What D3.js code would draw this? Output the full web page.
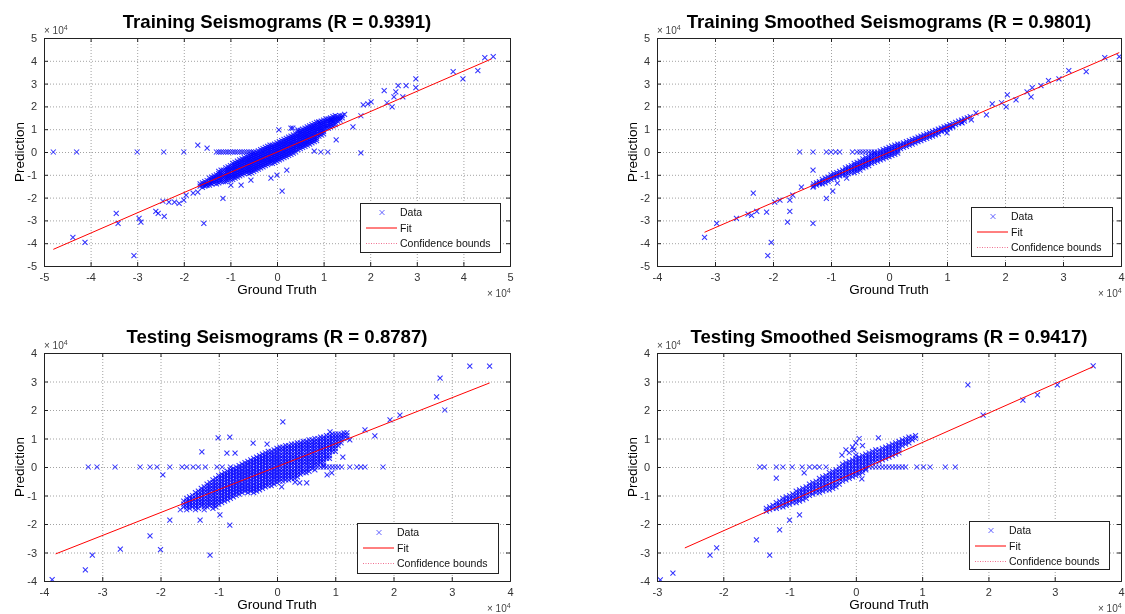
<!DOCTYPE html>
<html><head><meta charset="utf-8">
<script src="https://cdn.jsdelivr.net/npm/d3@7"></script>
<style>
body{margin:0;background:#fff}
text{font-family:Arial,"Liberation Sans",Helvetica,sans-serif}
</style>
</head><body>
<svg id="chart" width="1125" height="614"></svg>
<script>
// ---------------- DATA (units of 10^4) ----------------
const titles = [
  "Training Seismograms (R = 0.9391)",
  "Training Smoothed Seismograms (R = 0.9801)",
  "Testing Seismograms (R = 0.8787)",
  "Testing Smoothed Seismograms (R = 0.9417)"
];
const xLabel = "Ground Truth";
const yLabel = "Prediction";
const legendLabels = ["Data", "Fit", "Confidence bounds"];

const tlXTicks = [-5,-4,-3,-2,-1,0,1,2,3,4,5];
const tlYTicks = [-5,-4,-3,-2,-1,0,1,2,3,4,5];
const trXTicks = [-4,-3,-2,-1,0,1,2,3,4];
const trYTicks = [-5,-4,-3,-2,-1,0,1,2,3,4,5];
const blXTicks = [-4,-3,-2,-1,0,1,2,3,4];
const blYTicks = [-4,-3,-2,-1,0,1,2,3,4];
const brXTicks = [-3,-2,-1,0,1,2,3,4];
const brYTicks = [-4,-3,-2,-1,0,1,2,3,4];

const tlFit = [[-4.8,-4.27],[4.6,4.08]];
const trFit = [[-3.18,-3.52],[3.97,4.36]];
const blFit = [[-3.8,-3.05],[3.65,2.95]];
const brFit = [[-2.58,-2.84],[3.58,3.52]];

// scattered points [x, y]
const tlScatter = [
[-4.8,0],[-4.3,0],[-3.0,0],[-2.43,0],[-2.0,0],[-1.5,0.17],[-1.7,0.3],
[-1.3,0],[-1.25,0],[-1.2,0],[-1.15,0],[-1.1,0],[-1.05,0],[-1.0,0],[-0.95,0],[-0.9,0],[-0.85,0],[-0.8,0],[-0.75,0],[-0.7,0],[-0.65,0],[-0.6,0],[-0.55,0],[-0.5,0],
[0.04,0.97],[0.3,1.05],[0.34,1.05],[0.45,0.97],
[4.46,4.14],[4.64,4.18],[3.78,3.52],[3.99,3.21],[4.31,3.57],[2.98,3.21],[2.98,2.82],[2.6,2.91],[2.77,2.91],[2.55,2.64],[2.51,2.42],[2.3,2.69],[2.36,2.16],[2.47,1.98],[2.7,2.42],[2.02,2.2],[1.95,2.11],[1.85,2.07],[1.8,1.59],[1.63,1.1],[1.8,-0.04],[1.27,0.53],[1.16,1.41],[0.9,1.32],[1.09,0],[0.94,0],[0.8,0.04],
[-3.45,-2.69],[-3.41,-3.13],[-4.38,-3.74],[-4.12,-3.96],[-2.96,-2.91],[-2.92,-3.08],[-3.07,-4.54],[-2.6,-2.6],[-2.55,-2.69],[-2.42,-2.82],[-2.45,-2.16],[-2.32,-2.2],[-2.2,-2.2],[-2.1,-2.25],[-2.0,-2.11],[-1.95,-1.89],[-1.8,-1.8],[-1.7,-1.76],[-1.57,-3.13],[-1.52,-1.45],[-1.42,-1.37],[-1.16,-2.03],[-0.99,-1.45],[-0.77,-1.45],[-0.56,-1.23],[-0.13,-1.15],[0,-1.01],[0.11,-1.72],[0.21,-0.79]
];
// dense core: [x, [y, y, ...]]
const tlCore = [
[-1.65,[-1.4,-1.5]],[-1.6,[-1.35,-1.45,-1.55]],[-1.55,[-1.3,-1.4,-1.5]],[-1.5,[-1.25,-1.35,-1.45]],
[-1.45,[-1.15,-1.25,-1.35,-1.45]],[-1.4,[-1.1,-1.2,-1.3,-1.4]],[-1.35,[-1.05,-1.15,-1.25,-1.35]],[-1.3,[-1.0,-1.1,-1.2,-1.3,-1.4]],
[-1.25,[-0.85,-0.95,-1.05,-1.15,-1.25,-1.35]],[-1.2,[-0.8,-0.9,-1.0,-1.1,-1.2,-1.3]],[-1.15,[-0.8,-0.9,-1.0,-1.1,-1.2,-1.3]],
[-1.1,[-0.7,-0.8,-0.9,-1.0,-1.1,-1.2,-1.3]],[-1.05,[-0.65,-0.75,-0.85,-0.95,-1.05,-1.15,-1.25]],[-1.0,[-0.6,-0.7,-0.8,-0.9,-1.0,-1.1,-1.2]],
[-0.95,[-0.5,-0.6,-0.7,-0.8,-0.9,-1.0,-1.1,-1.2]],[-0.9,[-0.45,-0.55,-0.65,-0.75,-0.85,-0.95,-1.05,-1.15]],
[-0.85,[-0.4,-0.5,-0.6,-0.7,-0.8,-0.9,-1.0,-1.1]],[-0.8,[-0.35,-0.45,-0.55,-0.65,-0.75,-0.85,-0.95,-1.05]],
[-0.75,[-0.3,-0.4,-0.5,-0.6,-0.7,-0.8,-0.9,-1.0]],[-0.7,[-0.25,-0.35,-0.45,-0.55,-0.65,-0.75,-0.85,-0.95]],
[-0.65,[-0.2,-0.3,-0.4,-0.5,-0.6,-0.7,-0.8,-0.9]],[-0.6,[-0.15,-0.25,-0.35,-0.45,-0.55,-0.65,-0.75,-0.85,-0.95]],
[-0.55,[-0.1,-0.2,-0.3,-0.4,-0.5,-0.6,-0.7,-0.8,-0.9]],[-0.5,[-0.05,-0.15,-0.25,-0.35,-0.45,-0.55,-0.65,-0.75,-0.85]],
[-0.45,[0,-0.1,-0.2,-0.3,-0.4,-0.5,-0.6,-0.7,-0.8]],[-0.4,[0.05,-0.05,-0.15,-0.25,-0.35,-0.45,-0.55,-0.65,-0.75]],
[-0.35,[0.1,0,-0.1,-0.2,-0.3,-0.4,-0.5,-0.6,-0.7]],[-0.3,[0.15,0.05,-0.05,-0.15,-0.25,-0.35,-0.45,-0.55,-0.65]],
[-0.25,[0.2,0.1,0,-0.1,-0.2,-0.3,-0.4,-0.5,-0.6]],[-0.2,[0.25,0.15,0.05,-0.05,-0.15,-0.25,-0.35,-0.45,-0.55]],
[-0.15,[0.3,0.2,0.1,0,-0.1,-0.2,-0.3,-0.4,-0.5]],[-0.1,[0.3,0.2,0.1,0,-0.1,-0.2,-0.3,-0.4,-0.5]],
[-0.05,[0.35,0.25,0.15,0.05,-0.05,-0.15,-0.25,-0.35,-0.45]],[0,[0.4,0.3,0.2,0.1,0,-0.1,-0.2,-0.3,-0.4]],
[0.05,[0.45,0.35,0.25,0.15,0.05,-0.05,-0.15,-0.25,-0.35]],[0.1,[0.5,0.4,0.3,0.2,0.1,0,-0.1,-0.2,-0.3]],
[0.15,[0.55,0.45,0.35,0.25,0.15,0.05,-0.05,-0.15,-0.25]],[0.2,[0.6,0.5,0.4,0.3,0.2,0.1,0,-0.1,-0.2]],
[0.25,[0.65,0.55,0.45,0.35,0.25,0.15,0.05,-0.05,-0.15]],[0.3,[0.7,0.6,0.5,0.4,0.3,0.2,0.1,0,-0.1]],
[0.35,[0.75,0.65,0.55,0.45,0.35,0.25,0.15,0.05,-0.05]],[0.4,[0.8,0.7,0.6,0.5,0.4,0.3,0.2,0.1,0]],
[0.45,[0.9,0.8,0.7,0.6,0.5,0.4,0.3,0.2,0.1]],[0.5,[0.95,0.85,0.75,0.65,0.55,0.45,0.35,0.25,0.15]],
[0.55,[1.0,0.9,0.8,0.7,0.6,0.5,0.4,0.3,0.2]],[0.6,[1.05,0.95,0.85,0.75,0.65,0.55,0.45,0.35,0.25]],
[0.65,[1.1,1.0,0.9,0.8,0.7,0.6,0.5,0.4,0.3]],[0.7,[1.15,1.05,0.95,0.85,0.75,0.65,0.55,0.45,0.35]],
[0.75,[1.2,1.1,1.0,0.9,0.8,0.7,0.6,0.5,0.4]],[0.8,[1.25,1.15,1.05,0.95,0.85,0.75,0.65,0.55,0.45]],
[0.85,[1.3,1.2,1.1,1.0,0.9,0.8,0.7,0.6,0.5]],[0.9,[1.3,1.2,1.1,1.0,0.9,0.8,0.7]],
[0.95,[1.35,1.25,1.15,1.05,0.95,0.85,0.75]],[1.0,[1.4,1.3,1.2,1.1,1.0,0.9,0.8]],
[1.05,[1.45,1.35,1.25,1.15,1.05]],[1.1,[1.45,1.35,1.25,1.15,1.05]],[1.15,[1.5,1.4,1.3,1.2,1.1]],
[1.2,[1.55,1.45,1.35,1.25,1.15]],[1.25,[1.6,1.5,1.4,1.3,1.2]],[1.3,[1.55,1.45,1.35]],[1.35,[1.6,1.5,1.4]],
[1.4,[1.6,1.5]],[1.45,[1.65]]
];

const trScatter = [
[3.97,4.18],[3.72,4.14],[3.4,3.52],[3.1,3.57],[2.93,3.21],[2.75,3.13],[2.62,2.91],[2.47,2.82],[2.45,2.42],[2.38,2.64],[2.19,2.29],[2.04,2.51],[2.02,1.98],[1.94,2.16],[1.78,2.11],[1.68,1.63],[1.5,1.72],[1.0,0.84],[1.26,1.28],[1.42,1.41],
[-3.18,-3.74],[-2.97,-3.13],[-2.63,-2.91],[-2.43,-2.73],[-2.37,-2.78],[-2.34,-1.8],[-2.28,-2.6],[-2.11,-2.64],[-2.03,-3.96],[-2.09,-4.54],[-1.97,-2.2],[-1.88,-2.11],[-1.71,-2.6],[-1.75,-3.08],[-1.71,-2.11],[-1.66,-1.89],[-1.51,-1.54],[-1.31,-3.13],[-1.31,-0.79],[-1.31,-1.54],[-1.08,-2.03],[-0.97,-1.72],[-1.2,-1.37],[-0.89,-1.37],[-0.73,-1.15],
[-1.54,0],[-1.31,0],[-1.08,0],[-1.0,0],[-0.92,0],[-0.85,0],[-0.63,0],[-0.55,0],[-0.5,0],[-0.45,0],[-0.4,0],[-0.35,0],[-0.3,0],[-0.25,0]
];
const trCore = [
[-1.3,[-1.4,-1.5]],[-1.25,[-1.35,-1.45]],[-1.2,[-1.3,-1.4]],[-1.15,[-1.2,-1.3,-1.4]],[-1.1,[-1.15,-1.25,-1.35]],
[-1.05,[-1.1,-1.2,-1.3]],[-1.0,[-1.0,-1.1,-1.2]],[-0.95,[-0.95,-1.05,-1.15]],[-0.9,[-0.9,-1.0,-1.1]],[-0.85,[-0.85,-0.95,-1.05]],
[-0.8,[-0.8,-0.9,-1.0]],[-0.75,[-0.7,-0.8,-0.9,-1.0]],[-0.7,[-0.65,-0.75,-0.85,-0.95]],[-0.65,[-0.6,-0.7,-0.8,-0.9]],
[-0.6,[-0.5,-0.6,-0.7,-0.8,-0.9]],[-0.55,[-0.45,-0.55,-0.65,-0.75,-0.85]],[-0.5,[-0.4,-0.5,-0.6,-0.7,-0.8]],
[-0.45,[-0.3,-0.4,-0.5,-0.6,-0.7]],[-0.4,[-0.25,-0.35,-0.45,-0.55,-0.65]],[-0.35,[-0.2,-0.3,-0.4,-0.5,-0.6]],
[-0.3,[-0.1,-0.2,-0.3,-0.4,-0.5]],[-0.25,[-0.05,-0.15,-0.25,-0.35,-0.45]],[-0.2,[0,-0.1,-0.2,-0.3,-0.4]],
[-0.15,[0.05,-0.05,-0.15,-0.25,-0.35]],[-0.1,[0.1,0,-0.1,-0.2,-0.3]],[-0.05,[0.15,0.05,-0.05,-0.15,-0.25]],
[0,[0.2,0.1,0,-0.1,-0.2]],[0.05,[0.25,0.15,0.05,-0.05,-0.15]],[0.1,[0.3,0.2,0.1,0,-0.1]],[0.15,[0.35,0.25,0.15,0.05,-0.05]],
[0.2,[0.35,0.25,0.15]],[0.25,[0.4,0.3,0.2]],[0.3,[0.45,0.35,0.25]],[0.35,[0.5,0.4,0.3]],[0.4,[0.55,0.45,0.35]],
[0.45,[0.6,0.5,0.4]],[0.5,[0.65,0.55,0.45]],[0.55,[0.7,0.6,0.5]],[0.6,[0.75,0.65,0.55]],[0.65,[0.8,0.7,0.6]],
[0.7,[0.85,0.75,0.65]],[0.75,[0.9,0.8,0.7]],[0.8,[0.95,0.85,0.75]],[0.85,[1.0,0.9,0.8]],[0.9,[1.05,0.95,0.9]],
[0.95,[1.1,1.0,0.95]],[1.0,[1.15,1.05,1.0]],[1.05,[1.2,1.1,1.05]],[1.1,[1.25,1.15,1.1]],[1.15,[1.3,1.2]],
[1.2,[1.35,1.25]],[1.25,[1.4,1.3]],[1.3,[1.45,1.35]],[1.35,[1.5]],[1.4,[1.55]]
];

const blScatter = [
[-3.24,0],[-3.09,0],[-2.78,0],[-2.35,0],[-2.18,0],[-2.06,0],[-1.84,0],[-1.63,0],[-1.55,0],[-1.44,0],[-1.35,0],[-1.23,0],[-1.03,0],[-0.94,0],[-0.8,0],
[-1.29,0.53],[-1.96,-0.28],[-1.01,1.02],[-0.81,1.05],[-0.86,0.49],[-0.72,0.49],[-0.41,0.84],[0.1,1.58],[-0.17,0.8],
[1.0,0],[1.05,0],[1.11,0],[1.25,0],[1.37,0],[1.44,0],[1.51,0],[1.82,0],[1.13,0.35],[0.86,-0.28],[0.94,-0.21],[0.51,-0.56],[0.39,-0.56],[0.31,-0.53],[0.08,-0.7],
[3.31,3.54],[3.65,3.54],[2.8,3.12],[2.74,2.46],[2.88,2.0],[2.11,1.82],[1.94,1.65],[1.51,1.3],[1.68,1.09],[1.25,0.95],[0.91,1.23],
[-3.86,-3.95],[-3.29,-3.61],[-3.17,-3.09],[-2.69,-2.88],[-2.18,-2.42],[-2.0,-2.9],[-1.66,-1.5],[-1.84,-1.86],[-1.15,-3.09],[-1.32,-1.86],[-0.98,-1.68],[-0.81,-2.04]
];
const blCore = [
[-1.6,[-1.2,-1.3,-1.4]],[-1.55,[-1.1,-1.2,-1.3,-1.4,-1.5]],[-1.5,[-1.05,-1.15,-1.25,-1.35,-1.45]],[-1.45,[-1.0,-1.1,-1.2,-1.3,-1.4]],
[-1.4,[-0.9,-1.0,-1.1,-1.2,-1.3,-1.4,-1.5]],[-1.35,[-0.85,-0.95,-1.05,-1.15,-1.25,-1.35,-1.45]],[-1.3,[-0.75,-0.85,-0.95,-1.05,-1.15,-1.25,-1.35]],
[-1.25,[-0.7,-0.8,-0.9,-1.0,-1.1,-1.2,-1.3,-1.4,-1.5]],[-1.2,[-0.6,-0.7,-0.8,-0.9,-1.0,-1.1,-1.2,-1.3,-1.4]],
[-1.15,[-0.55,-0.65,-0.75,-0.85,-0.95,-1.05,-1.15,-1.25,-1.35]],
[-1.1,[-0.45,-0.55,-0.65,-0.75,-0.85,-0.95,-1.05,-1.15,-1.25,-1.35,-1.45]],[-1.05,[-0.4,-0.5,-0.6,-0.7,-0.8,-0.9,-1.0,-1.1,-1.2,-1.3,-1.4]],
[-1.0,[-0.3,-0.4,-0.5,-0.6,-0.7,-0.8,-0.9,-1.0,-1.1,-1.2,-1.3]],[-0.95,[-0.25,-0.35,-0.45,-0.55,-0.65,-0.75,-0.85,-0.95,-1.05,-1.15,-1.25]],
[-0.9,[-0.2,-0.3,-0.4,-0.5,-0.6,-0.7,-0.8,-0.9,-1.0,-1.1,-1.2]],[-0.85,[-0.15,-0.25,-0.35,-0.45,-0.55,-0.65,-0.75,-0.85,-0.95,-1.05,-1.15]],
[-0.8,[-0.1,-0.2,-0.3,-0.4,-0.5,-0.6,-0.7,-0.8,-0.9,-1.0,-1.1]],[-0.75,[-0.05,-0.15,-0.25,-0.35,-0.45,-0.55,-0.65,-0.75,-0.85,-0.95,-1.05]],
[-0.7,[0,-0.1,-0.2,-0.3,-0.4,-0.5,-0.6,-0.7,-0.8,-0.9,-1.0]],[-0.65,[0.05,-0.05,-0.15,-0.25,-0.35,-0.45,-0.55,-0.65,-0.75,-0.85,-0.95]],
[-0.6,[0.1,0,-0.1,-0.2,-0.3,-0.4,-0.5,-0.6,-0.7,-0.8,-0.9]],[-0.55,[0.15,0.05,-0.05,-0.15,-0.25,-0.35,-0.45,-0.55,-0.65,-0.75,-0.85]],
[-0.5,[0.2,0.1,0,-0.1,-0.2,-0.3,-0.4,-0.5,-0.6,-0.7,-0.8,-0.9]],[-0.45,[0.25,0.15,0.05,-0.05,-0.15,-0.25,-0.35,-0.45,-0.55,-0.65,-0.75,-0.85]],
[-0.4,[0.3,0.2,0.1,0,-0.1,-0.2,-0.3,-0.4,-0.5,-0.6,-0.7,-0.8,-0.9]],[-0.35,[0.35,0.25,0.15,0.05,-0.05,-0.15,-0.25,-0.35,-0.45,-0.55,-0.65,-0.75,-0.85]],
[-0.3,[0.4,0.3,0.2,0.1,0,-0.1,-0.2,-0.3,-0.4,-0.5,-0.6,-0.7,-0.8]],[-0.25,[0.45,0.35,0.25,0.15,0.05,-0.05,-0.15,-0.25,-0.35,-0.45,-0.55,-0.65,-0.75]],
[-0.2,[0.5,0.4,0.3,0.2,0.1,0,-0.1,-0.2,-0.3,-0.4,-0.5,-0.6,-0.7]],[-0.15,[0.55,0.45,0.35,0.25,0.15,0.05,-0.05,-0.15,-0.25,-0.35,-0.45,-0.55,-0.65]],
[-0.1,[0.55,0.45,0.35,0.25,0.15,0.05,-0.05,-0.15,-0.25,-0.35,-0.45,-0.55,-0.65]],[-0.05,[0.6,0.5,0.4,0.3,0.2,0.1,0,-0.1,-0.2,-0.3,-0.4,-0.5,-0.6]],
[0,[0.65,0.55,0.45,0.35,0.25,0.15,0.05,-0.05,-0.15,-0.25,-0.35,-0.45,-0.55]],[0.05,[0.7,0.6,0.5,0.4,0.3,0.2,0.1,0,-0.1,-0.2,-0.3,-0.4,-0.5]],
[0.1,[0.7,0.6,0.5,0.4,0.3,0.2,0.1,0,-0.1,-0.2,-0.3,-0.4,-0.5]],[0.15,[0.75,0.65,0.55,0.45,0.35,0.25,0.15,0.05,-0.05,-0.15,-0.25,-0.35,-0.45]],
[0.2,[0.75,0.65,0.55,0.45,0.35,0.25,0.15,0.05,-0.05,-0.15,-0.25,-0.35,-0.45]],[0.25,[0.8,0.7,0.6,0.5,0.4,0.3,0.2,0.1,0,-0.1,-0.2,-0.3,-0.4]],
[0.3,[0.8,0.7,0.6,0.5,0.4,0.3,0.2,0.1,0,-0.1,-0.2,-0.3,-0.4]],[0.35,[0.85,0.75,0.65,0.55,0.45,0.35,0.25,0.15,0.05,-0.05,-0.15,-0.25,-0.35]],
[0.4,[0.85,0.75,0.65,0.55,0.45,0.35,0.25,0.15,0.05,-0.05,-0.15,-0.25]],[0.45,[0.9,0.8,0.7,0.6,0.5,0.4,0.3,0.2,0.1,0,-0.1,-0.2]],
[0.5,[0.9,0.8,0.7,0.6,0.5,0.4,0.3,0.2,0.1,0,-0.1,-0.2]],[0.55,[0.95,0.85,0.75,0.65,0.55,0.45,0.35,0.25,0.15,0.05,-0.05,-0.15]],
[0.6,[0.95,0.85,0.75,0.65,0.55,0.45,0.35,0.25,0.15,0.05,-0.05]],[0.65,[1.0,0.9,0.8,0.7,0.6,0.5,0.4,0.3,0.2,0.1,0,-0.1]],
[0.7,[1.0,0.9,0.8,0.7,0.6,0.5,0.4,0.3,0.2,0.1,0]],[0.75,[1.05,0.95,0.85,0.75,0.65,0.55,0.45,0.35,0.25,0.15,0]],
[0.8,[1.05,0.95,0.85,0.75,0.65,0.55,0.45,0.35,0.25,0.15,0.05,0]],[0.85,[1.1,1.0,0.9,0.8,0.7,0.6,0.5,0.4,0.3,0]],
[0.9,[1.1,1.0,0.9,0.8,0.7,0.6,0.5,0.4,0.3,0]],[0.95,[1.15,1.05,0.95,0.85,0.75,0.65,0.55,0]],
[1.0,[1.15,1.05,0.95,0.85,0.75,0.65,0.55]],[1.05,[1.15,1.05,0.95,0.85,0.75]],[1.1,[1.15,1.05,0.95,0.85]],
[1.15,[1.2,1.1,1.0]],[1.2,[1.2,1.1,1.0]]
];

const brScatter = [
[-1.45,0],[-1.38,0],[-1.2,0],[-1.1,0],[-0.96,0],[-0.81,0],[-0.7,0],[-0.62,0],[-0.55,0],[-0.45,0],
[-1.2,-0.39],[-0.78,-0.21],[-0.21,0.42],[0,0.42],[-0.03,0.6],[0.34,1.02],[-0.1,0.5],[-0.05,0.7],[0,0.85],[0.05,1.0],[-0.15,0.6],[0.1,0.75],
[0.65,0],[0.7,0],[0.75,0],[0.92,0],[1.02,0],[1.12,0],[1.35,0],[1.5,0],[0.09,-0.42],
[3.58,3.55],[3.04,2.88],[2.74,2.53],[2.52,2.35],[1.92,1.82],[1.69,2.88],
[-2.95,-3.96],[-2.76,-3.72],[-2.1,-2.84],[-2.2,-3.09],[-1.5,-2.56],[-1.3,-3.09],[-1.15,-2.21],[-1.0,-1.86],[-0.85,-1.68]
];
const brCore = [
[-1.35,[-1.45,-1.55]],[-1.3,[-1.4,-1.5]],[-1.25,[-1.35,-1.45]],[-1.2,[-1.25,-1.35,-1.45]],[-1.15,[-1.2,-1.3,-1.4]],
[-1.1,[-1.1,-1.2,-1.3,-1.4]],[-1.05,[-1.05,-1.15,-1.25,-1.35]],[-1.0,[-1.0,-1.1,-1.2,-1.3]],[-0.95,[-0.95,-1.05,-1.15,-1.25]],
[-0.9,[-0.85,-0.95,-1.05,-1.15,-1.25]],[-0.85,[-0.8,-0.9,-1.0,-1.1,-1.2]],[-0.8,[-0.75,-0.85,-0.95,-1.05,-1.15]],
[-0.75,[-0.7,-0.8,-0.9,-1.0,-1.1]],[-0.7,[-0.6,-0.7,-0.8,-0.9,-1.0]],[-0.65,[-0.55,-0.65,-0.75,-0.85,-0.95]],
[-0.6,[-0.5,-0.6,-0.7,-0.8,-0.9]],[-0.55,[-0.4,-0.5,-0.6,-0.7,-0.8,-0.9]],[-0.5,[-0.35,-0.45,-0.55,-0.65,-0.75,-0.85]],
[-0.45,[-0.3,-0.4,-0.5,-0.6,-0.7,-0.8]],[-0.4,[-0.2,-0.3,-0.4,-0.5,-0.6,-0.7,-0.8]],[-0.35,[-0.15,-0.25,-0.35,-0.45,-0.55,-0.65,-0.75]],
[-0.3,[-0.1,-0.2,-0.3,-0.4,-0.5,-0.6,-0.7]],[-0.25,[0,-0.1,-0.2,-0.3,-0.4,-0.5,-0.6]],[-0.2,[0.1,0,-0.1,-0.2,-0.3,-0.4,-0.5]],
[-0.15,[0.15,0.05,-0.05,-0.15,-0.25,-0.35,-0.45]],[-0.1,[0.2,0.1,0,-0.1,-0.2,-0.3,-0.4]],[-0.05,[0.25,0.15,0.05,-0.05,-0.15,-0.25,-0.35]],
[0,[0.3,0.2,0.1,0,-0.1,-0.2,-0.3]],[0.05,[0.35,0.25,0.15,0.05,-0.05,-0.15,-0.25]],[0.1,[0.4,0.3,0.2,0.1,0,-0.1,-0.2]],
[0.15,[0.45,0.35,0.25,0.15,0.05,-0.05,-0.1]],[0.2,[0.5,0.4,0.3,0.2,0.1,0]],[0.25,[0.55,0.45,0.35,0.25,0.15,0]],
[0.3,[0.6,0.5,0.4,0.3,0.2,0]],[0.35,[0.6,0.5,0.4,0.3,0.2,0]],[0.4,[0.65,0.55,0.45,0.35,0.25,0]],[0.45,[0.7,0.6,0.5,0.4,0.3,0]],
[0.5,[0.75,0.65,0.55,0.45,0.35,0]],[0.55,[0.8,0.7,0.6,0.5,0.4,0]],[0.6,[0.85,0.75,0.65,0.55,0.45,0]],[0.65,[0.9,0.8,0.7,0.6,0.5]],
[0.7,[0.95,0.85,0.75]],[0.75,[1.0,0.9,0.8]],[0.8,[1.05,0.95,0.85]],[0.85,[1.05,0.95]],[0.9,[1.1,1.0]]
];

// ---------------- LAYOUT ----------------
const panels = [
  {title:titles[0], scatter:tlScatter, core:tlCore, fit:tlFit, xt:tlXTicks, yt:tlYTicks, l:44, r:510, t:38, b:266, leg:{x:360,y:203,w:140,h:49}},
  {title:titles[1], scatter:trScatter, core:trCore, fit:trFit, xt:trXTicks, yt:trYTicks, l:657, r:1121, t:38, b:266, leg:{x:971,y:207,w:141,h:49}},
  {title:titles[2], scatter:blScatter, core:blCore, fit:blFit, xt:blXTicks, yt:blYTicks, l:44, r:510, t:353, b:581, leg:{x:357,y:523,w:141,h:50}},
  {title:titles[3], scatter:brScatter, core:brCore, fit:brFit, xt:brXTicks, yt:brYTicks, l:657, r:1121, t:353, b:581, leg:{x:969,y:521,w:140,h:48}}
];

const svg = d3.select("#chart");
svg.append("rect").attr("width",1125).attr("height",614).attr("fill","#fff");
const defs = svg.append("defs");
defs.append("filter").attr("id","soft").attr("x","-5%").attr("y","-5%").attr("width","110%").attr("height","110%")
  .append("feGaussianBlur").attr("stdDeviation",0.35);
const markerPath = "M-2.5,-2.5L2.5,2.5M-2.5,2.5L2.5,-2.5";
const blue = "#0000ff";

panels.forEach((p, i) => {
  const pts = p.scatter.concat(p.core.flatMap(([cx, ys]) => ys.map(v => [cx, v])));
  const x = d3.scaleLinear().domain(d3.extent(p.xt)).range([p.l, p.r]);
  const y = d3.scaleLinear().domain(d3.extent(p.yt)).range([p.b, p.t]);
  const g = svg.append("g");

  g.append("g").selectAll("line").data(p.xt.slice(1,-1)).join("line")
    .attr("x1", d=>x(d)+0.5).attr("x2", d=>x(d)+0.5).attr("y1", p.t).attr("y2", p.b)
    .attr("stroke","#8a8a8a").attr("stroke-width",0.8).attr("stroke-dasharray","1,2");
  g.append("g").selectAll("line").data(p.yt.slice(1,-1)).join("line")
    .attr("y1", d=>y(d)+0.5).attr("y2", d=>y(d)+0.5).attr("x1", p.l).attr("x2", p.r)
    .attr("stroke","#8a8a8a").attr("stroke-width",0.8).attr("stroke-dasharray","1,2");

  const cid = "clip"+i;
  defs.append("clipPath").attr("id",cid).append("rect")
    .attr("x",p.l).attr("y",p.t).attr("width",p.r-p.l).attr("height",p.b-p.t);
  const plot = g.append("g").attr("clip-path",`url(#${cid})`);

  plot.append("g").attr("filter","url(#soft)").selectAll("path").data(pts).join("path")
    .attr("d", markerPath)
    .attr("transform", d=>`translate(${x(d[0])},${y(d[1])})`)
    .attr("stroke", blue).attr("stroke-width",1.05).attr("stroke-opacity",0.8).attr("fill","none");

  const line = d3.line().x(d=>x(d[0])).y(d=>y(d[1]));
  plot.append("path").datum(p.fit).attr("d", line)
    .attr("stroke","#ff0000").attr("stroke-width",1).attr("fill","none");

  const fmt = d => String(d);
  g.append("g").attr("transform",`translate(0,${p.b})`)
    .call(d3.axisBottom(x).tickValues(p.xt).tickSize(-4).tickPadding(7).tickFormat(fmt));
  g.append("g").attr("transform",`translate(0,${p.t})`)
    .call(d3.axisTop(x).tickValues(p.xt).tickSize(-4).tickFormat(""));
  g.append("g").attr("transform",`translate(${p.l},0)`)
    .call(d3.axisLeft(y).tickValues(p.yt).tickSize(-4).tickPadding(7).tickFormat(fmt));
  g.append("g").attr("transform",`translate(${p.r},0)`)
    .call(d3.axisRight(y).tickValues(p.yt).tickSize(-4).tickFormat(""));
  g.selectAll(".domain").attr("stroke","#222");
  g.selectAll(".tick line").attr("stroke","#222");
  g.selectAll(".tick text").attr("font-size","11px").attr("fill","#333")
    .attr("font-family","Arial, 'Liberation Sans', sans-serif");

  const e1 = g.append("text").attr("x", p.l).attr("y", p.t-4).attr("font-size","10px").attr("fill","#444");
  e1.append("tspan").text("× 10");
  e1.append("tspan").attr("dy",-4).attr("font-size","7px").text("4");
  const e2 = g.append("text").attr("x", p.r-23).attr("y", p.b+31).attr("font-size","10px").attr("fill","#444");
  e2.append("tspan").text("× 10");
  e2.append("tspan").attr("dy",-4).attr("font-size","7px").text("4");

  g.append("text").attr("x",(p.l+p.r)/2).attr("y",p.t-10).attr("text-anchor","middle")
    .attr("font-size","18.6px").attr("font-weight","bold").attr("fill","#000").text(p.title);
  g.append("text").attr("x",(p.l+p.r)/2).attr("y",p.b+28).attr("text-anchor","middle")
    .attr("font-size","13.5px").attr("fill","#000").text(xLabel);
  g.append("text").attr("transform",`translate(${p.l-20},${(p.t+p.b)/2}) rotate(-90)`)
    .attr("text-anchor","middle").attr("font-size","13.5px").attr("fill","#000").text(yLabel);

  const L = p.leg;
  const lg = g.append("g");
  lg.append("rect").attr("x",L.x+0.5).attr("y",L.y+0.5).attr("width",L.w).attr("height",L.h)
    .attr("fill","#fff").attr("stroke","#222").attr("stroke-width",1);
  const rows = [L.y+9.5, L.y+25, L.y+40.5];
  lg.append("path").attr("d",markerPath).attr("transform",`translate(${L.x+22},${rows[0]})`)
    .attr("stroke",blue).attr("stroke-opacity",0.6).attr("stroke-width",1).attr("fill","none");
  lg.append("line").attr("x1",L.x+6).attr("x2",L.x+37).attr("y1",rows[1]).attr("y2",rows[1])
    .attr("stroke","#ff0000").attr("stroke-width",1);
  lg.append("line").attr("x1",L.x+6).attr("x2",L.x+37).attr("y1",rows[2]).attr("y2",rows[2])
    .attr("stroke","#f07090").attr("stroke-width",1).attr("stroke-dasharray","1,1.5");
  legendLabels.forEach((t,k)=>{
    lg.append("text").attr("x",L.x+40).attr("y",rows[k]).attr("dy","0.35em")
      .attr("font-size","10.5px").attr("fill","#111").text(t);
  });
});
</script>
</body></html>
